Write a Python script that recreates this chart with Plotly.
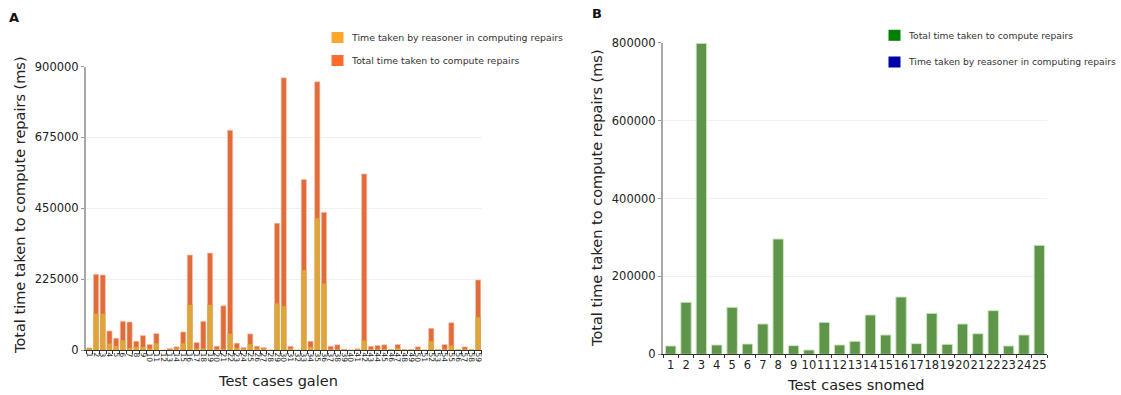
import plotly.graph_objects as go

# --- galen test cases (ms) ---
galen_cases = [str(i) for i in range(1, 60)]
galen_total = [
    6800, 240300, 238200, 60500, 37300, 91000, 88900, 27900, 45700, 17400,
    52000, 0, 4700, 10000, 57300, 301500, 23700, 91000, 307600, 12100,
    140400, 697600, 21600, 7900, 51100, 12100, 7900, 0, 402300, 864000,
    12100, 0, 541000, 28000, 851600, 437000, 12100, 16300, 2600, 0,
    3700, 559000, 12100, 14200, 16300, 1500, 17400, 1500, 1500, 10000,
    0, 68900, 1500, 17400, 86800, 500, 10000, 1500, 222400,
]
galen_reasoner = [
    3000, 115200, 115200, 20500, 13100, 31000, 5800, 10000, 10000, 2600,
    21500, 0, 1500, 3500, 21500, 143600, 3000, 2000, 143600, 1500,
    1000, 52000, 5800, 3000, 18400, 2000, 2000, 0, 147800, 138500,
    2000, 0, 254000, 10000, 418000, 211000, 1500, 1500, 500, 0,
    500, 30000, 1500, 1500, 1500, 300, 5800, 300, 300, 1500,
    0, 28000, 300, 1500, 14200, 100, 1500, 300, 103600,
]

# --- snomed test cases (ms) ---
snomed_cases = [str(i) for i in range(1, 26)]
snomed_total = [
    21400, 133500, 798300, 24000, 120600, 26500, 77900, 296000, 22200, 11100,
    82100, 24000, 33400, 101000, 49600, 147200, 27400, 105200, 25700, 77900,
    53000, 112100, 21400, 49600, 279800,
]
snomed_reasoner = [
    0, 0, 0, 0, 0, 0, 0, 0, 0, 0,
    0, 0, 0, 0, 0, 0, 0, 0, 0, 0,
    1500, 0, 0, 0, 0,
]

FONT = "DejaVu Sans"
W, H = 1121, 395
TOTAL_A = "rgb(224,108,58)"
REAS_A = "rgb(221,166,60)"
GREEN_B = "rgb(94,149,72)"


def px(x):
    return x / W


def py(y):
    return 1 - y / H


fig = go.Figure()

# Chart A: total time with the reasoner share drawn over it
fig.add_trace(go.Bar(x=galen_cases, y=galen_total, xaxis="x", yaxis="y",
                     marker=dict(color=TOTAL_A, line=dict(color="rgba(250,195,175,0.9)", width=0.7)),
                     width=0.78, showlegend=False))
fig.add_trace(go.Bar(x=galen_cases, y=galen_reasoner, xaxis="x", yaxis="y",
                     marker=dict(color=REAS_A, line=dict(width=0)),
                     width=0.78, showlegend=False))

# Chart B
fig.add_trace(go.Bar(x=snomed_cases, y=snomed_total, xaxis="x2", yaxis="y2",
                     marker=dict(color=GREEN_B, line=dict(color="rgba(205,232,195,0.95)", width=1)),
                     width=0.68, showlegend=False))
fig.add_trace(go.Bar(x=snomed_cases, y=snomed_reasoner, xaxis="x2", yaxis="y2",
                     marker=dict(color="rgb(40,80,90)"), width=0.68, showlegend=False))

xaxis_common = dict(showline=True, linecolor="#333", linewidth=1, ticks="outside", ticklen=3,
                    tickcolor="#333", tickson="boundaries", showgrid=False, zeroline=False,
                    automargin=False, type="category", dtick=1, fixedrange=True)
yaxis_common = dict(showline=True, linecolor="#a8a8a8", linewidth=2, ticks="outside", ticklen=3,
                    tickcolor="#999", showgrid=True, gridcolor="#f1f1f1", gridwidth=1,
                    zeroline=False, automargin=False, tickformat="d", fixedrange=True,
                    tickfont=dict(size=11.5, color="#222"))

fig.update_layout(
    template="none",
    width=W, height=H,
    margin=dict(l=0, r=0, t=0, b=0, pad=0),
    paper_bgcolor="white", plot_bgcolor="white",
    barmode="overlay",
    showlegend=False,
    font=dict(family=FONT, color="#222"),
    xaxis=dict(domain=[px(86), px(481.5)], anchor="y",
               tickangle=90, tickfont=dict(size=7.5, color="#222"), **xaxis_common),
    yaxis=dict(domain=[py(350), py(66.5)], anchor="x", range=[0, 900000],
               tickvals=[0, 225000, 450000, 675000, 900000], **yaxis_common),
    xaxis2=dict(domain=[px(663), px(1047)], anchor="y2",
                tickangle=0, tickfont=dict(size=11.5, color="#222"), **xaxis_common),
    yaxis2=dict(domain=[py(354.3), py(42.7)], anchor="x2", range=[0, 800000],
                tickvals=[0, 200000, 400000, 600000, 800000], **yaxis_common),
)

# axis titles
titles = [
    ("Total time taken to compute repairs (ms)", 20, 205, -90),
    ("Total time taken to compute repairs (ms)", 597, 198, -90),
    ("Test cases galen", 278, 381, 0),
    ("Test cases snomed", 856, 385, 0),
]
for text, x, y, ang in titles:
    fig.add_annotation(text=text, x=px(x), y=py(y), xref="paper", yref="paper",
                       showarrow=False, textangle=ang, xanchor="center", yanchor="middle",
                       font=dict(size=14.5, color="#222"))

# panel letters
for text, x, y in [("A", 14, 17), ("B", 597, 14)]:
    fig.add_annotation(text=f"<b>{text}</b>", x=px(x), y=py(y), xref="paper", yref="paper",
                       showarrow=False, xanchor="center", yanchor="middle",
                       font=dict(size=13, color="#111"))

# legend entries: swatch + label
legend_items = [
    ("Time taken by reasoner in computing repairs", "#FFA62B", 331.5, 37.5, 9.4),
    ("Total time taken to compute repairs", "#FF6A2F", 331.5, 60.5, 9.4),
    ("Total time taken to compute repairs", "#008000", 888.5, 35.3, 9.2),
    ("Time taken by reasoner in computing repairs", "#0000A8", 888.5, 62.0, 9.2),
]
for text, color, x, y, size in legend_items:
    fig.add_shape(type="rect", xref="paper", yref="paper",
                  x0=px(x), x1=px(x + 12), y0=py(y + 5.5), y1=py(y - 5.5),
                  fillcolor=color, line=dict(width=0))
    fig.add_annotation(text=text, x=px(x + 17.5), y=py(y), xref="paper", yref="paper",
                       showarrow=False, xanchor="left", yanchor="middle",
                       font=dict(size=size, color="#333"))

fig.write_html("out.html")
